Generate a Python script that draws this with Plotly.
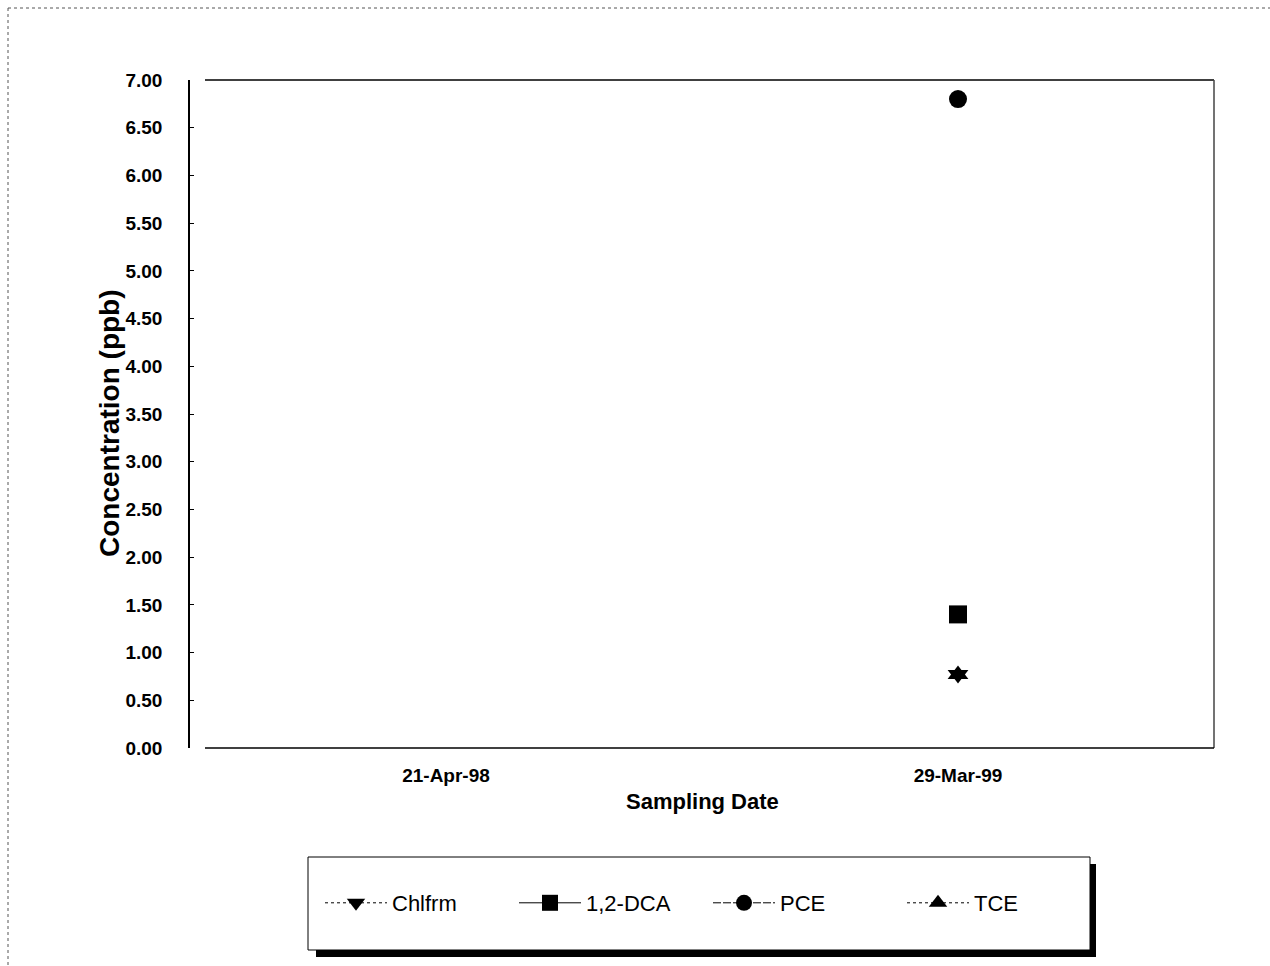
import plotly.graph_objects as go

dates = ["21-Apr-98", "29-Mar-99"]
chlfrm = [None, 0.77]
dca = [None, 1.40]
pce = [None, 6.80]
tce = [None, 0.77]

W, H = 1270, 966
L, R, T, B = 190, 1214, 80, 748


def px(x):
    return (x - L) / (R - L)


def py(y):
    return (B - y) / (B - T)


FONT = "Liberation Sans, Arial, sans-serif"

fig = go.Figure()
series = [
    ("Chlfrm", chlfrm, "triangle-down", "dot"),
    ("1,2-DCA", dca, "square", "solid"),
    ("PCE", pce, "circle", "8px,2px"),
    ("TCE", tce, "triangle-up", "dot"),
]
for name, vals, sym, dash in series:
    fig.add_trace(go.Scatter(
        x=dates, y=vals, name=name, mode="lines+markers",
        line=dict(color="black", width=1, dash=dash),
        marker=dict(symbol=sym, size=18, color="black"),
        connectgaps=False,
    ))

shapes = []
shapes.append(dict(type="line", xref="paper", yref="paper", x0=px(205), x1=1, y0=1, y1=1,
                   line=dict(color="black", width=1.5)))
shapes.append(dict(type="line", xref="paper", yref="paper", x0=1, x1=1, y0=0, y1=1,
                   line=dict(color="#444", width=1.5)))
shapes.append(dict(type="line", xref="paper", yref="paper", x0=px(205), x1=1, y0=0, y1=0,
                   line=dict(color="black", width=1.5)))
shapes.append(dict(type="line", xref="paper", yref="paper", x0=px(8), x1=px(1270), y0=py(8), y1=py(8),
                   line=dict(color="#555", width=1, dash="dot")))
shapes.append(dict(type="line", xref="paper", yref="paper", x0=px(8), x1=px(8), y0=py(8), y1=py(966),
                   line=dict(color="#555", width=1, dash="dot")))
shapes.append(dict(type="rect", xref="paper", yref="paper", x0=px(316), x1=px(1096), y0=py(864), y1=py(957),
                   fillcolor="black", line=dict(width=0), layer="below"))
shapes.append(dict(type="rect", xref="paper", yref="paper", x0=px(308), x1=px(1090), y0=py(857), y1=py(950),
                   fillcolor="white", line=dict(color="black", width=1), layer="below"))

annotations = [
    dict(text="Concentration (ppb)", xref="paper", yref="paper", x=px(109), y=py(423),
         textangle=-90, showarrow=False, font=dict(family=FONT, size=28, color="black", weight="bold"),
         xanchor="center", yanchor="middle"),
    dict(text="Sampling Date", xref="paper", yref="paper", x=px(702), y=py(801),
         showarrow=False, font=dict(family=FONT, size=22, color="black", weight="bold"),
         xanchor="center", yanchor="middle"),
]

fig.update_layout(
    width=W, height=H,
    margin=dict(l=L, r=W - R, t=T, b=H - B, autoexpand=False),
    paper_bgcolor="white", plot_bgcolor="white",
    showlegend=True,
    legend=dict(orientation="h", x=px(320), y=py(903), xanchor="left", yanchor="middle",
                bgcolor="rgba(0,0,0,0)", borderwidth=0,
                font=dict(family=FONT, size=22, color="black"),
                entrywidth=117, entrywidthmode="pixels", itemwidth=62, itemsizing="trace"),
    xaxis=dict(type="category", range=[-0.5, 1.5], showgrid=False, zeroline=False,
               showline=False, ticks="", ticklabelstandoff=14,
               tickfont=dict(family=FONT, size=19, color="black", weight="bold")),
    yaxis=dict(range=[0, 7], dtick=0.5, tickformat=".2f", showgrid=False, zeroline=False,
               showline=True, linecolor="black", linewidth=1.5, ticks="inside", ticklen=4,
               tickcolor="black", ticklabelstandoff=22,
               tickfont=dict(family=FONT, size=19, color="black", weight="bold")),
    shapes=shapes,
    annotations=annotations,
)

fig.write_html("out.html")
